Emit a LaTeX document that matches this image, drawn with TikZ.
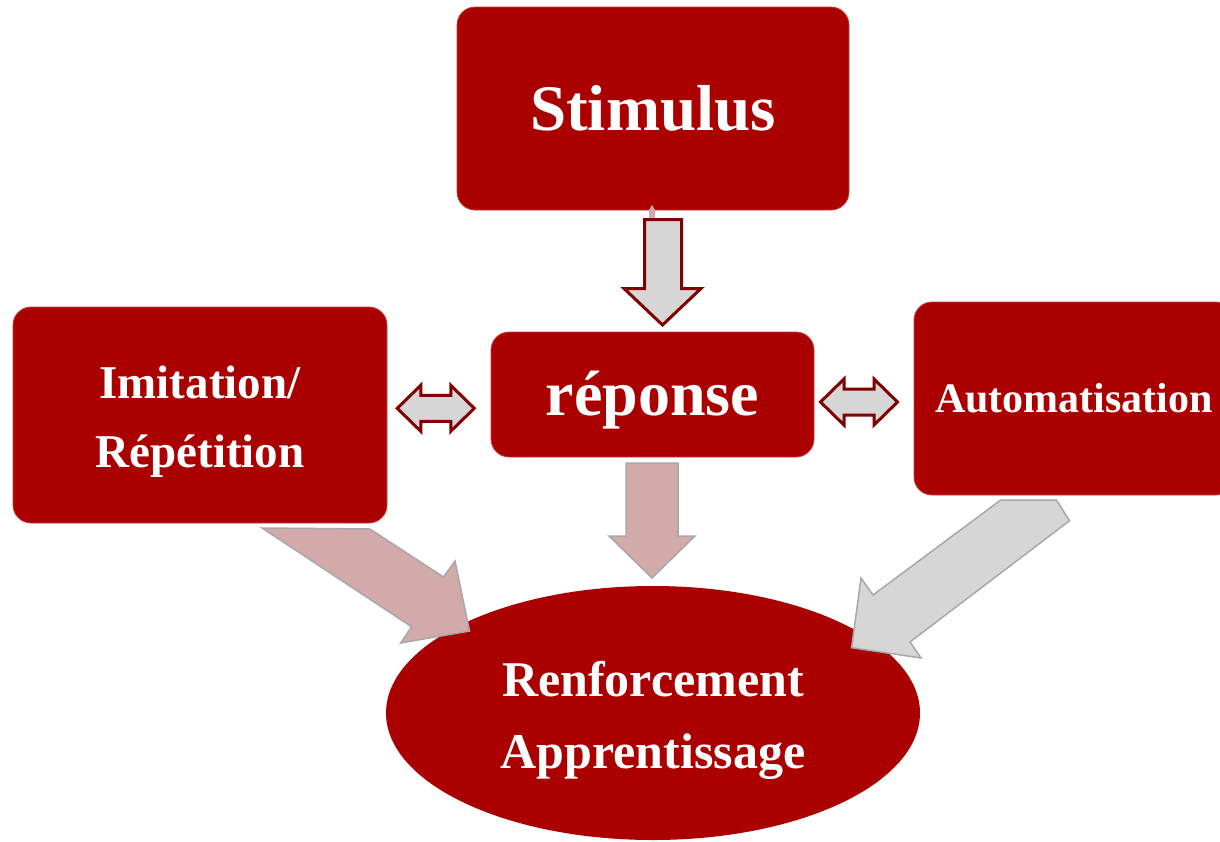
\documentclass[tikz,border=0pt]{standalone}
\usepackage{fontspec}
\setmainfont{Liberation Serif}
\usetikzlibrary{calc, shapes.geometric}

\definecolor{boxred}{RGB}{170,0,0}
\definecolor{edgered}{RGB}{196,60,60}
\definecolor{darkred}{RGB}{128,0,0}
\definecolor{arrowgray}{RGB}{214,214,214}
\definecolor{arrowpink}{RGB}{210,170,170}
\definecolor{rimgray}{RGB}{168,168,172}

\tikzset{
  box/.style={rectangle, rounded corners=18pt, fill=boxred, draw=edgered, line width=0.8pt, text=white, inner sep=0pt, align=center},
  dblarrow/.style={fill=arrowgray, draw=darkred, line width=3pt, line join=miter},
  flatarrow/.style={fill=arrowpink, draw=rimgray, line width=1.5pt, line join=miter},
}
% texte abaissé sans changer la taille de la boîte
\newcommand{\lowertext}[2]{\raisebox{-#1}[\height][\depth]{#2}}

\begin{document}
\begin{tikzpicture}[x=1pt, y=-1pt]
  \useasboundingbox (0,0) rectangle (1220,841);
  % Cadres
  \node[box, minimum width=392pt, minimum height=203pt, font=\bfseries\fontsize{65}{70}\selectfont] (stim) at (653,108.5) {Stimulus};
  \node[box, minimum width=323pt, minimum height=125pt, font=\bfseries\fontsize{64}{70}\selectfont] (rep) at (652.5,394.5) {\lowertext{6pt}{réponse}};
  \node[box, minimum width=374pt, minimum height=216pt, font=\bfseries\fontsize{47}{69}\selectfont] (imit) at (200,415) {\lowertext{4.5pt}{\begin{tabular}{@{}c@{}}Imitation/\\Répétition\end{tabular}}};
  \node[box, minimum width=320pt, minimum height=193pt, font=\bfseries\fontsize{42}{50}\selectfont] (auto) at (1074,398.5) {Automatisation};
  \node[ellipse, fill=boxred, text=white, inner sep=0pt, minimum width=534pt, minimum height=254pt, align=center, font=\bfseries\fontsize{50}{72}\selectfont] (renf) at (653,713) {\lowertext{5pt}{\begin{tabular}{@{}c@{}}Renforcement\\Apprentissage\end{tabular}}};
  % Flèches
  \fill[arrowpink] (649,218) -- (649,210) -- (652,205) -- (655,210) -- (655,218) -- cycle;
  \draw[dblarrow] (644.5,219.5) -- (681.5,219.5) -- (681.5,288.5) -- (701,288.5) -- (662.5,325) -- (624,288.5) -- (644.5,288.5) -- cycle;
  \foreach \cx/\cy in {435.75/408.3, 859/402}
    \draw[dblarrow] (\cx-38.5,\cy) -- ++(23.5,-23) -- ++(0,10) -- ++(30,0) -- ++(0,-10) -- ++(23.5,23) -- ++(-23.5,23) -- ++(0,-10) -- ++(-30,0) -- ++(0,10) -- cycle;
  \draw[flatarrow] (626,463) -- (678,463) -- (678,536) -- (695,536) -- (652,578) -- (609,536) -- (626,536) -- cycle;
  \draw[flatarrow] (262,528) -- (370,529) -- (443.5,577) -- (455,561) -- (469.5,631) -- (400.7,643) -- (411.5,626.7) -- cycle;
  \draw[flatarrow, fill=arrowgray] (1000.7,500) -- (1056.5,500) -- (1069.5,520.7) -- (910,642) -- (921,658) -- (851.6,647.7) -- (861,578) -- (873,595) -- cycle;
\end{tikzpicture}
\end{document}
